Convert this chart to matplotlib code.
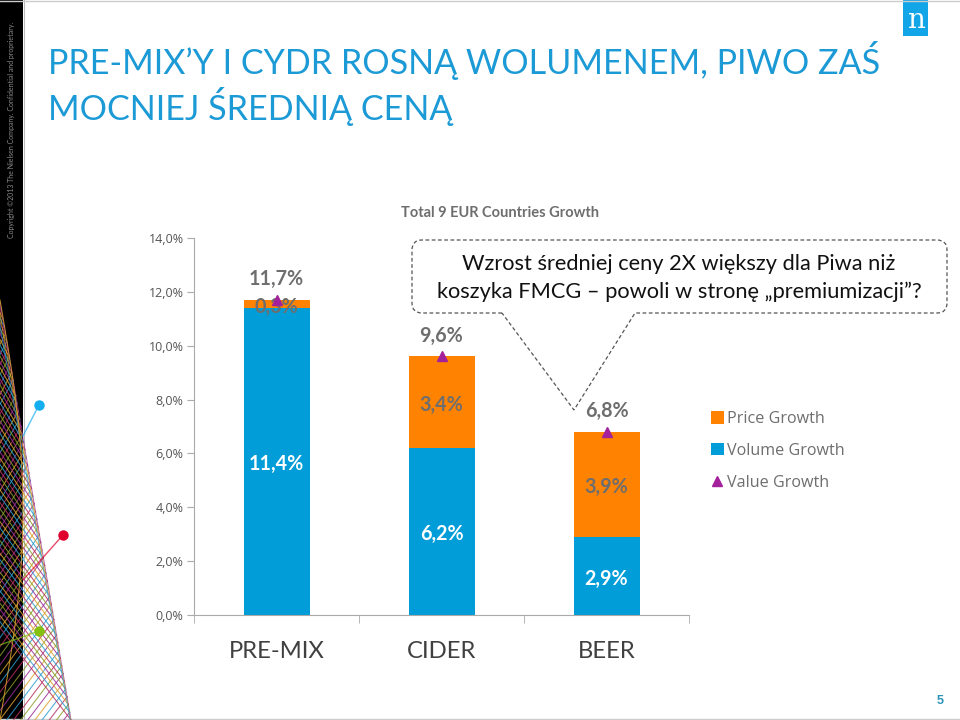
import numpy as np
import matplotlib
matplotlib.use('Agg')
import matplotlib.pyplot as plt
from matplotlib.patches import Rectangle, PathPatch
from matplotlib.path import Path

plt.rcParams['font.family'] = ['Lato', 'DejaVu Sans']

categories = ['PRE-MIX', 'CIDER', 'BEER']
volume_growth = [11.4, 6.2, 2.9]
price_growth = [0.3, 3.4, 3.9]
value_growth = [11.7, 9.6, 6.8]
volume_labels = ['11,4%', '6,2%', '2,9%']
price_labels = ['0,3%', '3,4%', '3,9%']
value_labels = ['11,7%', '9,6%', '6,8%']
y_ticks = [0, 2, 4, 6, 8, 10, 12, 14]
y_tick_labels = ['0,0%', '2,0%', '4,0%', '6,0%', '8,0%', '10,0%', '12,0%', '14,0%']

BLUE = '#009dd9'
ORANGE = '#ff8200'
PURPLE = '#a3229c'
GREY = '#6e6e6e'
TITLE = '#1b9ad6'

fig = plt.figure(figsize=(9.6, 7.2), dpi=100)

# background decoration in pixel coordinates
deco = fig.add_axes([0, 0, 1, 1], zorder=0)
deco.add_patch(Rectangle((0, 0), 23, 720, color='black', lw=0))
deco.plot([23.5, 23.5], [0, 720], color='#bbbbbb', lw=0.8)
deco.plot([0, 960], [0.5, 0.5], color='#cccccc', lw=1)
deco.plot([0, 960], [718.5, 718.5], color='#cccccc', lw=1)

# string-art net in the lower left corner
mesh_colors = ['#2d9ccf', '#b5305f', '#8a9a2a', '#9a2f95', '#d9a030']
for i, t in enumerate(np.linspace(0, 1, 55)):
    ex = 71 * t
    ey = 303 + 417 * t
    slope = 1.3 + 0.8 * (1 - t) ** 2
    deco.plot([ex, ex - 150], [ey, ey + 150 * slope], color=mesh_colors[i % 5], lw=0.75, alpha=0.85)
    deco.plot([ex, ex - 150], [ey, ey - 150 * slope], color=mesh_colors[(i + 2) % 5], lw=0.75, alpha=0.85)

# lines hugging the right edge of the net
for i, off in enumerate([0, -2, -4]):
    deco.plot([off, 71 + off * 0.2], [303, 720], color=mesh_colors[(i + 3) % 5], lw=0.75, alpha=0.7)

# arc inside the black strip
arc_y = np.linspace(300, 720, 80)
deco.plot(23 * np.sin((arc_y - 300) / 420 * np.pi), arc_y, color='#d9a030', lw=0.75, alpha=0.85)
deco.set_xlim(0, 960)
deco.set_ylim(720, 0)
deco.axis('off')

# pins
for px, py, qx, qy, col in [(39, 405, 23, 436, '#12aef0'),
                            (63, 535, 23, 580, '#e0002d'),
                            (39, 631, 0, 645, '#84c010')]:
    deco.plot([px, qx], [py, qy], color=col, lw=1, alpha=0.7)
    deco.plot(px, py, 'o', color=col, ms=7.5, mec='none', zorder=5)

deco.text(12, 238, 'Copyright ©2013 The Nielsen Company. Confidential and proprietary.',
          rotation=90, color='#8a8a8a', fontsize=5.0, ha='center', va='bottom')

# logo
deco.add_patch(Rectangle((903, 0), 25, 36, color='#12a5e8', lw=0))
deco.text(915.5, 20, 'n', color='white', fontsize=20, family='DejaVu Serif', ha='center', va='center')

deco.text(48, 74, 'PRE-MIX’Y I CYDR ROSNĄ WOLUMENEM, PIWO ZAŚ', color=TITLE, fontsize=24.6, va='baseline')
deco.text(48, 120, 'MOCNIEJ ŚREDNIĄ CENĄ', color=TITLE, fontsize=24.6, va='baseline')
deco.text(401, 213, 'Total 9 EUR Countries Growth', color=GREY, fontsize=10.5, fontweight='bold', va='center')
deco.text(940, 701, '5', color='#2a93b8', fontsize=9, family='Liberation Sans', fontweight='bold',
          ha='center', va='center')

# chart
ax = fig.add_axes([194 / 960, 105 / 720, 495 / 960, 377 / 720], zorder=1)
ax.patch.set_alpha(0)
x = np.arange(len(categories))
ax.bar(x, volume_growth, width=0.4, color=BLUE, label='Volume Growth')
ax.bar(x, price_growth, width=0.4, bottom=volume_growth, color=ORANGE, label='Price Growth')
ax.plot(x, value_growth, '^', color=PURPLE, ms=7, ls='none', label='Value Growth', zorder=5)

for i in x:
    ax.annotate(volume_labels[i], (i, volume_growth[i] / 2), xytext=(0, -2), textcoords='offset points',
                ha='center', va='center', color='white', fontsize=14.2, fontweight='bold')
    ax.annotate(price_labels[i], (i, volume_growth[i] + price_growth[i] / 2), xytext=(0, -2),
                textcoords='offset points', ha='center', va='center', color=GREY, fontsize=14.2,
                fontweight='bold')
    ax.annotate(value_labels[i], (i, value_growth[i]), xytext=(0, 15), textcoords='offset points',
                ha='center', va='center', color=GREY, fontsize=14.2, fontweight='bold')

ax.set_xlim(-0.5, 2.5)
ax.set_ylim(0, 14)
ax.set_yticks(y_ticks)
ax.set_yticklabels(y_tick_labels, fontsize=9, color='#555555', family='Open Sans')
ax.set_xticks(x)
ax.set_xticklabels(categories, fontsize=17.2, color='#404040')
ax.set_xticks([-0.5, 0.5, 1.5, 2.5], minor=True)
ax.tick_params(axis='x', which='major', length=0, pad=18.5)
ax.tick_params(axis='x', which='minor', length=6, color='#aaaaaa')
ax.tick_params(axis='y', length=5, color='#aaaaaa', pad=2.5)
ax.spines['top'].set_visible(False)
ax.spines['right'].set_visible(False)
ax.spines['left'].set_color('#aaaaaa')
ax.spines['bottom'].set_color('#aaaaaa')

handles, labels = ax.get_legend_handles_labels()
order = [labels.index(n) for n in ['Price Growth', 'Volume Growth', 'Value Growth']]
leg = ax.legend([handles[i] for i in order], [labels[i] for i in order],
                loc='upper left', bbox_to_anchor=(1.044, 0.541), bbox_transform=ax.transAxes,
                frameon=False, labelcolor=GREY, handlelength=0.8, handleheight=0.8,
                prop={'family': 'Open Sans', 'size': 11.6},
                handletextpad=0.2, labelspacing=0.98, borderpad=0, borderaxespad=0)

# callout on top
over = fig.add_axes([0, 0, 1, 1], zorder=2)
over.set_xlim(0, 960)
over.set_ylim(720, 0)
over.axis('off')
L, R, T, B, r = 412, 947, 240, 313, 10
verts = [(502, B), (L + r, B), (L, B), (L, B - r), (L, T + r), (L, T), (L + r, T),
         (R - r, T), (R, T), (R, T + r), (R, B - r), (R, B), (R - r, B), (635, B), (574, 410), (502, B)]
codes = [Path.MOVETO, Path.LINETO, Path.CURVE3, Path.CURVE3, Path.LINETO, Path.CURVE3, Path.CURVE3,
         Path.LINETO, Path.CURVE3, Path.CURVE3, Path.LINETO, Path.CURVE3, Path.CURVE3, Path.LINETO,
         Path.LINETO, Path.LINETO]
over.add_patch(PathPatch(Path(verts, codes), fill=False, ec='#555555', lw=0.9, ls=(0, (3, 2))))
over.text(679, 264, 'Wzrost średniej ceny 2X większy dla Piwa niż', ha='center', va='center',
          fontsize=15.7, color='#111111')
over.text(679, 292, 'koszyka FMCG – powoli w stronę „premiumizacji”?', ha='center', va='center',
          fontsize=15.7, color='#111111')

fig.savefig('out.png', dpi=100)
